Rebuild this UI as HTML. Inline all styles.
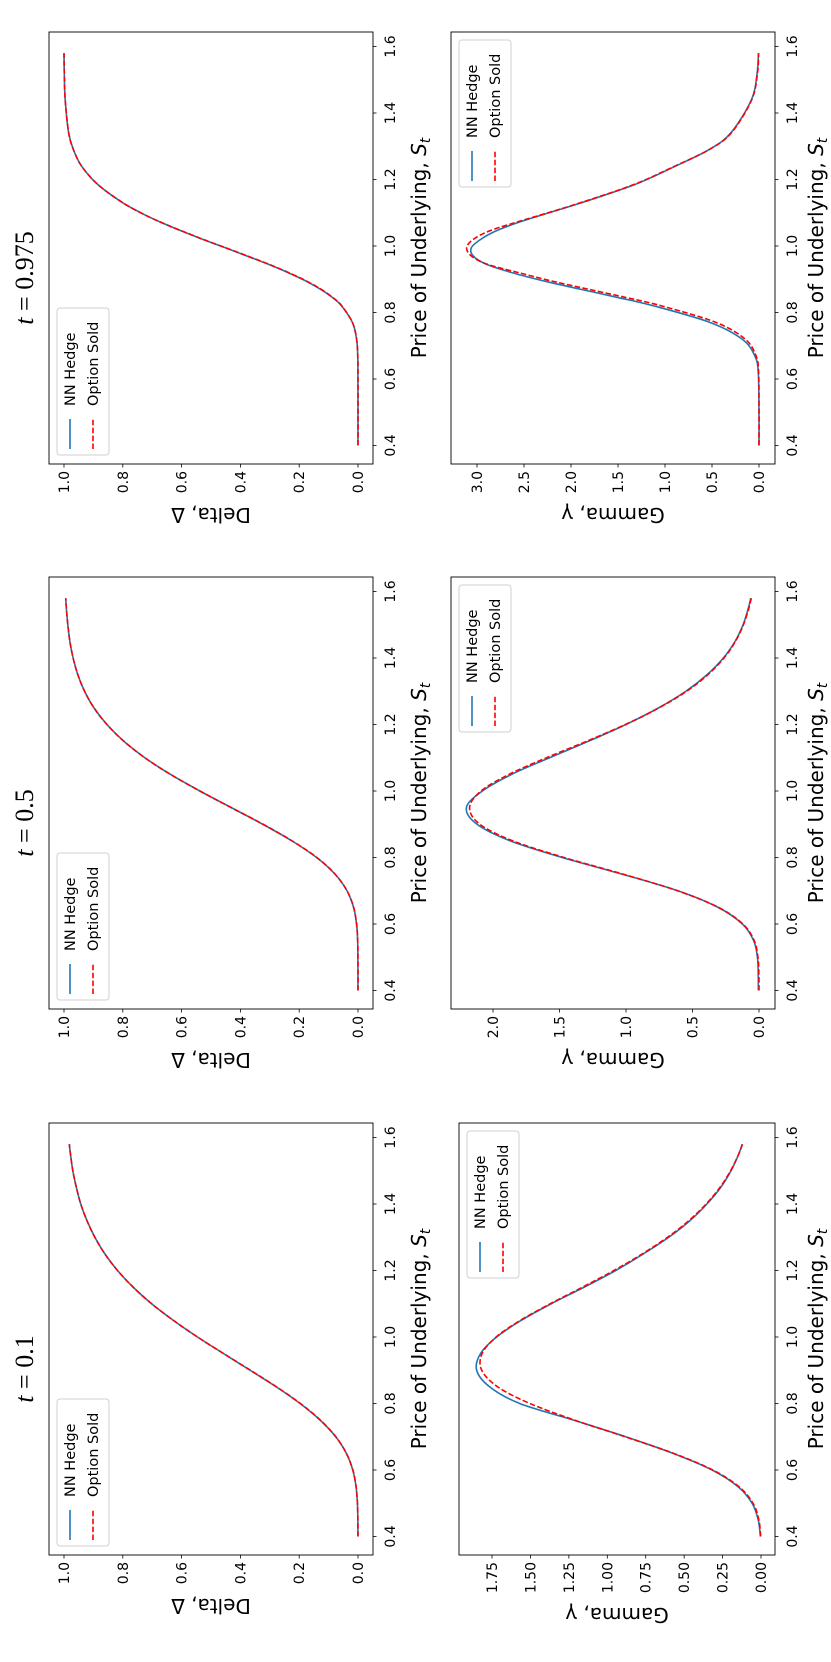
<!DOCTYPE html>
<html><head><meta charset="utf-8"><style>
html,body{margin:0;padding:0;background:#fff;}
svg{display:block;}
text{font-family:"DejaVu Sans","Liberation Sans",sans-serif;fill:#000;}
</style></head><body>
<svg id="fig" width="831" height="1662" viewBox="0 0 831 1662" xmlns="http://www.w3.org/2000/svg">
<g id="root" transform="translate(0,1662) rotate(-90)"></g>
</svg>
<script>
// ---- data ----
const priceA = [0.40,0.45,0.50,0.55,0.60,0.65,0.70,0.75,0.80,0.85,0.90,0.95,1.00,1.05,1.10,1.15,1.20,1.25,1.30,1.35,1.40,1.45,1.50,1.55,1.58];
const deltaOptA = [0.0001,0.0004,0.0019,0.0065,0.0176,0.0394,0.0755,0.128,0.196,0.277,0.366,0.457,0.546,0.628,0.702,0.765,0.818,0.861,0.895,0.922,0.943,0.958,0.970,0.978,0.982];
const deltaNNA = [0.0002,0.0005,0.0020,0.0066,0.0178,0.0396,0.0757,0.129,0.197,0.278,0.367,0.457,0.546,0.628,0.702,0.765,0.818,0.861,0.895,0.922,0.943,0.958,0.970,0.978,0.982];
const gammaOptA = [0.002,0.014,0.052,0.144,0.314,0.569,0.884,1.213,1.504,1.713,1.817,1.815,1.723,1.566,1.371,1.161,0.957,0.772,0.608,0.469,0.357,0.267,0.198,0.145,0.120];
const gammaNNA = [0.004,0.018,0.058,0.150,0.318,0.572,0.880,1.220,1.570,1.765,1.850,1.825,1.720,1.560,1.365,1.150,0.945,0.765,0.600,0.462,0.352,0.262,0.195,0.145,0.122];

const priceB = [0.40,0.45,0.50,0.55,0.60,0.65,0.70,0.75,0.80,0.85,0.90,0.95,1.00,1.05,1.10,1.15,1.20,1.25,1.30,1.35,1.40,1.45,1.50,1.55,1.58];
const deltaOptB = [0.0000,0.0000,0.0002,0.0011,0.0048,0.0149,0.0374,0.0780,0.140,0.224,0.323,0.431,0.538,0.638,0.725,0.797,0.854,0.898,0.930,0.953,0.969,0.980,0.987,0.992,0.994];
const deltaNNB = [0.0001,0.0001,0.0003,0.0012,0.0049,0.0150,0.0375,0.0782,0.141,0.225,0.324,0.431,0.538,0.638,0.725,0.797,0.854,0.898,0.930,0.953,0.969,0.980,0.987,0.992,0.994];
const gammaOptB = [0.000,0.001,0.008,0.036,0.121,0.305,0.613,1.022,1.466,1.851,2.099,2.176,2.090,1.879,1.598,1.293,1.004,0.752,0.544,0.384,0.263,0.177,0.117,0.076,0.058];
const gammaNNB = [0.005,0.006,0.012,0.040,0.125,0.308,0.610,1.030,1.480,1.870,2.120,2.200,2.080,1.860,1.575,1.280,1.000,0.755,0.550,0.390,0.268,0.180,0.120,0.080,0.062];

const priceC = [0.40,0.50,0.62,0.67,0.72,0.77,0.82,0.845,0.87,0.895,0.92,0.945,0.97,0.995,1.02,1.045,1.07,1.095,1.13,1.185,1.24,1.29,1.34,1.44,1.52,1.58];
const deltaOptC = [0,0,0.0001,0.0008,0.0047,0.0188,0.055,0.0855,0.126,0.176,0.236,0.303,0.376,0.451,0.527,0.599,0.667,0.728,0.800,0.885,0.940,0.968,0.984,0.996,0.999,1.0];
const deltaNNC = [0.0001,0.0001,0.0002,0.0009,0.0048,0.0190,0.056,0.087,0.128,0.178,0.238,0.305,0.378,0.452,0.528,0.600,0.667,0.728,0.800,0.885,0.940,0.968,0.984,0.996,0.999,1.0];
const gammaOptC = [0,0,0.004,0.032,0.147,0.457,1.038,1.414,1.817,2.210,2.560,2.890,3.060,3.110,3.040,2.870,2.600,2.303,1.900,1.330,0.897,0.531,0.295,0.077,0.016,0.004];
const gammaNNC = [0,0,0.008,0.045,0.180,0.520,1.120,1.500,1.900,2.290,2.630,2.900,3.040,3.060,2.960,2.800,2.570,2.290,1.890,1.320,0.890,0.530,0.300,0.080,0.020,0.006];

const priceTicks = [0.4,0.6,0.8,1.0,1.2,1.4,1.6];
const priceTickLabels = ["0.4","0.6","0.8","1.0","1.2","1.4","1.6"];
const deltaTicks = [0,0.2,0.4,0.6,0.8,1.0];
const deltaTickLabels = ["0.0","0.2","0.4","0.6","0.8","1.0"];
const gammaTicksA = [0,0.25,0.5,0.75,1.0,1.25,1.5,1.75];
const gammaTickLabelsA = ["0.00","0.25","0.50","0.75","1.00","1.25","1.50","1.75"];
const gammaTicksB = [0,0.5,1.0,1.5,2.0];
const gammaTickLabelsB = ["0.0","0.5","1.0","1.5","2.0"];
const gammaTicksC = [0,0.5,1.0,1.5,2.0,2.5,3.0];
const gammaTickLabelsC = ["0.0","0.5","1.0","1.5","2.0","2.5","3.0"];
const titles = ["0.1","0.5","0.975"];

// ---- layout (original landscape coordinates) ----
const NS = "http://www.w3.org/2000/svg";
const root = document.getElementById('root');
function mk(tag, attrs, parent){
  const e = document.createElementNS(NS, tag);
  for (const k in attrs) e.setAttribute(k, attrs[k]);
  (parent||root).appendChild(e);
  return e;
}
const cols = [
  {left:107, key:'t01', price:priceA, dO:deltaOptA, dN:deltaNNA, gO:gammaOptA, gN:gammaNNA, gTicks:gammaTicksA, gLabels:gammaTickLabelsA, g0:761, gUnit:153.7, gTop:459, gLegY:467, gLabOff:53},
  {left:653, key:'t05', price:priceB, dO:deltaOptB, dN:deltaNNB, gO:gammaOptB, gN:gammaNNB, gTicks:gammaTicksB, gLabels:gammaTickLabelsB, g0:759, gUnit:133, gTop:451, gLegY:459, gLabOff:44},
  {left:1198, key:'t0975', price:priceC, dO:deltaOptC, dN:deltaNNC, gO:gammaOptC, gN:gammaNNC, gTicks:gammaTicksC, gLabels:gammaTickLabelsC, g0:759, gUnit:94, gTop:451, gLegY:459, gLabOff:44}
];
const W = 432, PX = 332.5;

function smoothPath(pts){
  let d = 'M' + pts[0][0].toFixed(2) + ',' + pts[0][1].toFixed(2);
  for (let i=0;i<pts.length-1;i++){
    const p0 = pts[i-1]||pts[i], p1 = pts[i], p2 = pts[i+1], p3 = pts[i+2]||pts[i+1];
    const c1x = p1[0]+(p2[0]-p0[0])/6, c1y = p1[1]+(p2[1]-p0[1])/6;
    const c2x = p2[0]-(p3[0]-p1[0])/6, c2y = p2[1]-(p3[1]-p1[1])/6;
    d += ' C'+c1x.toFixed(2)+','+c1y.toFixed(2)+' '+c2x.toFixed(2)+','+c2y.toFixed(2)+' '+p2[0].toFixed(2)+','+p2[1].toFixed(2);
  }
  return d;
}

cols.forEach((c, ci) => {
  const xS = p => c.left + 18.5 + (p - 0.4) * PX;
  const dY = v => 358 - 294 * v;
  const gY = v => c.g0 - c.gUnit * v;
  const rows = [
    {name:'delta', top:49, bottom:373, yS:dY, o:c.dO, n:c.dN, ticks:deltaTicks, labels:deltaTickLabels, ylab:'Delta, Δ', labOff:44, xtBase:395, xlBase:426, legY:57, legX:c.left+9},
    {name:'gamma', top:c.gTop, bottom:775, yS:gY, o:c.gO, n:c.gN, ticks:c.gTicks, labels:c.gLabels, ylab:'Gamma, γ', labOff:c.gLabOff, xtBase:797, xlBase:823, legY:c.gLegY, legX:c.left+W-8-147}
  ];
  const t = mk('text', {x:c.left+W/2-30, y:33, 'text-anchor':'middle', 'font-size':26, style:'font-family:"Liberation Serif",serif'});
  
  
  const ti = mk('tspan', {'font-style':'italic'}, t); ti.textContent = 't';
  const tr = mk('tspan', {}, t); tr.textContent = ' = ' + titles[ci];

  rows.forEach(r => {
    const g = mk('g', {});
    
    
    const ptsN = c.price.map((p,i)=>[xS(p), r.yS(r.n[i])]);
    const ptsO = c.price.map((p,i)=>[xS(p), r.yS(r.o[i])]);
    const ln = mk('path', {d:smoothPath(ptsN), fill:'none', stroke:'#1f77b4', 'stroke-width':1.6}, g);
    
    
    const lo = mk('path', {d:smoothPath(ptsO), fill:'none', stroke:'#ff0000', 'stroke-width':1.6, 'stroke-dasharray':'5.5,2.4'}, g);
    
    
    const fr = mk('rect', {x:c.left, y:r.top, width:W, height:r.bottom-r.top, fill:'none', stroke:'#000', 'stroke-width':0.9}, g);
    
    
    priceTicks.forEach((p,i)=>{
      const X = xS(p);
      mk('line', {x1:X, x2:X, y1:r.bottom, y2:r.bottom+3.5, stroke:'#000', 'stroke-width':0.8}, g);
      const tl = mk('text', {x:X, y:r.xtBase, 'text-anchor':'middle', 'font-size':14}, g);
      
      
      tl.textContent = priceTickLabels[i];
    });
    r.ticks.forEach((v,i)=>{
      const Y = r.yS(v);
      mk('line', {x1:c.left-3.5, x2:c.left, y1:Y, y2:Y, stroke:'#000', 'stroke-width':0.8}, g);
      const tl = mk('text', {x:c.left-7, y:Y+5, 'text-anchor':'end', 'font-size':14}, g);
      
      
      tl.textContent = r.labels[i];
    });
    const xl = mk('text', {x:c.left+W/2, y:r.xlBase, 'text-anchor':'middle', 'font-size':20}, g);
    
    
    const a = mk('tspan', {}, xl); a.textContent = 'Price of Underlying, ';
    const s = mk('tspan', {'font-style':'italic'}, xl); s.textContent = 'S';
    const sub = mk('tspan', {'font-style':'italic', 'font-size':14, dy:4}, xl); sub.textContent = 't';
    const cy = (r.top + r.bottom)/2, lx = c.left - r.labOff;
    const yl = mk('text', {x:lx, y:cy, 'text-anchor':'middle', 'font-size':20, transform:'rotate(-90 '+lx+' '+cy+')'}, g);
    
    
    yl.textContent = r.ylab;
    const lg = mk('g', {}, g);
    
    
    mk('rect', {x:r.legX, y:r.legY, width:147, height:52, rx:3, fill:'#fff', 'fill-opacity':0.8, stroke:'#d0d0d0', 'stroke-width':1}, lg);
    const e1 = mk('g', {}, lg);
    
    
    mk('line', {x1:r.legX+6, x2:r.legX+36, y1:r.legY+13, y2:r.legY+13, stroke:'#1f77b4', 'stroke-width':1.6}, e1);
    const t1 = mk('text', {x:r.legX+49, y:r.legY+18, 'font-size':14.5}, e1); t1.textContent = 'NN Hedge';
    const e2 = mk('g', {}, lg);
    
    
    mk('line', {x1:r.legX+6, x2:r.legX+36, y1:r.legY+36, y2:r.legY+36, stroke:'#ff0000', 'stroke-width':1.6, 'stroke-dasharray':'5.5,2.4'}, e2);
    const t2 = mk('text', {x:r.legX+49, y:r.legY+41, 'font-size':14.5}, e2); t2.textContent = 'Option Sold';
  });
});
</script>
</body></html>
